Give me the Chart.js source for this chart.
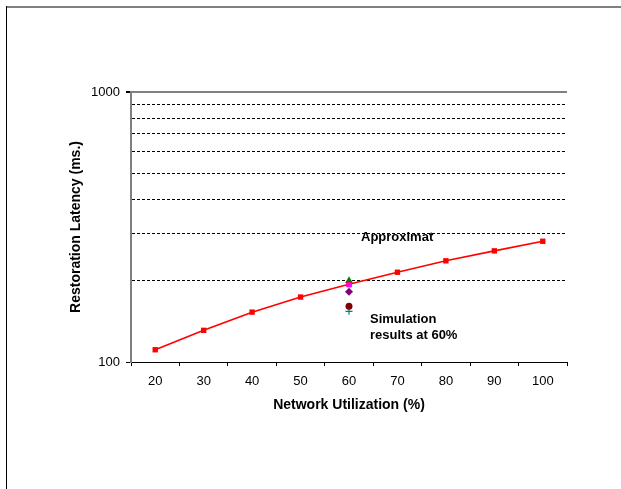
<!DOCTYPE html>
<html><head><meta charset="utf-8">
<script src="https://cdn.jsdelivr.net/npm/chart.js@4/dist/chart.umd.min.js"></script>
<style>html,body{margin:0;padding:0;background:#fff}#wrap{width:621px;height:489px;position:relative}</style>
</head><body><div id="wrap"><canvas id="c" width="621" height="489"></canvas></div>
<script>
// ---- data ----
const categories = ['20','30','40','50','60','70','80','90','100'];
const approxLatency = [111, 131, 153, 174, 194, 215, 237, 258, 280];
const simCategory = '60';
const simTriangle = 200;
const simSquare = 193;
const simDiamond = 182;
const simCircle = 161;
const simPlus = 154;
const yTickLabels = [100, 1000];
const yMin = 100, yMax = 1000;

const FONT = '"Liberation Sans", Arial, sans-serif';

const framePlugin = {
  id: 'frame',
  afterDraw(chart) {
    const ctx = chart.ctx;
    ctx.save();
    ctx.strokeStyle = '#808080'; ctx.lineWidth = 2;
    ctx.beginPath(); ctx.moveTo(6, 7); ctx.lineTo(621, 7); ctx.stroke();
    ctx.strokeStyle = '#000'; ctx.lineWidth = 1;
    ctx.beginPath(); ctx.moveTo(6.5, 6); ctx.lineTo(6.5, 489); ctx.stroke();
    // annotations
    const xs = chart.scales.x, ys = chart.scales.y;
    const x60 = xs.getPixelForValue(categories.indexOf(simCategory));
    ctx.fillStyle = '#000';
    ctx.font = 'bold 13px ' + FONT;
    ctx.textBaseline = 'middle';
    ctx.textAlign = 'left';
    ctx.fillText('Approximat', x60 + 12, ys.getPixelForValue(300) + 4);
    ctx.fillText('Simulation', x60 + 21, 319);
    ctx.fillText('results at 60%', x60 + 21, 335);
    ctx.restore();
  }
};

const pt = (v) => [{x: simCategory, y: v}];

new Chart(document.getElementById('c'), {
  type: 'line',
  data: {
    labels: categories,
    datasets: [
      { label: 'Approximation', data: approxLatency, borderColor: '#FF0000', backgroundColor: '#FF0000',
        borderWidth: 1.6, pointStyle: 'rect', pointRadius: 3.8, pointBorderWidth: 0, tension: 0, order: 1 },
      { label: 'sim1', data: pt(simTriangle), showLine: false, pointStyle: 'triangle', pointRadius: 4.5,
        backgroundColor: '#008000', borderColor: '#008000', borderWidth: 0, order: 2 },
      { label: 'sim2', data: pt(simSquare), showLine: false, pointStyle: 'rect', pointRadius: 3.5,
        backgroundColor: '#FF00FF', borderColor: '#FF00FF', borderWidth: 0, order: 0 },
      { label: 'sim3', data: pt(simDiamond), showLine: false, pointStyle: 'rectRot', pointRadius: 4,
        backgroundColor: '#800080', borderColor: '#800080', borderWidth: 0, order: 0 },
      { label: 'sim4', data: pt(simCircle), showLine: false, pointStyle: 'circle', pointRadius: 3.5,
        backgroundColor: '#800000', borderColor: '#800000', borderWidth: 0, order: 0 },
      { label: 'sim5', data: pt(simPlus), showLine: false, pointStyle: 'cross', pointRadius: 3.5,
        backgroundColor: '#008080', borderColor: '#008080', borderWidth: 1.2, order: 0 }
    ]
  },
  options: {
    responsive: false,
    animation: false,
    devicePixelRatio: 1,
    layout: { padding: { top: 92, right: 54, bottom: 0, left: 0 } },
    plugins: { legend: { display: false }, tooltip: { enabled: false } },
    scales: {
      x: {
        type: 'category',
        offset: true,
        grid: { offset: true, drawOnChartArea: false, tickLength: 4, color: '#000', tickColor: '#000' },
        border: { color: '#000', width: 1 },
        ticks: { color: '#000', font: { family: FONT, size: 13 }, padding: 8, autoSkip: false, maxRotation: 0 },
        title: { display: true, text: 'Network Utilization (%)', color: '#000',
                 font: { family: FONT, size: 14, weight: 'bold' }, padding: { top: 0, bottom: 75 } },
        afterFit(s) { s.height = 127; }
      },
      y: {
        type: 'logarithmic',
        min: yMin, max: yMax,
        afterBuildTicks(s) {
          s.ticks = s.ticks.filter(t => {
            const m = t.value / Math.pow(10, Math.floor(Math.log10(t.value) + 1e-9));
            return Math.abs(m - Math.round(m)) < 1e-6;
          });
        },
        grid: {
          drawOnChartArea: true,
          tickLength: 5,
          color: (c) => c.tick ? (c.tick.value === yMax ? '#808080' : (c.tick.value === yMin ? 'rgba(0,0,0,0)' : '#000')) : '#000',
          lineWidth: (c) => (c.tick && c.tick.value === yMax) ? 2 : 1,
          tickColor: (c) => (c.tick && yTickLabels.includes(c.tick.value)) ? '#000' : 'rgba(0,0,0,0)',
          tickBorderDash: []
        },
        border: {
          color: '#808080', width: 2,
          dash: (c) => (c.tick && c.tick.value !== yMax) ? [3, 2] : []
        },
        ticks: {
          color: '#000', font: { family: FONT, size: 13 }, padding: 6, autoSkip: false,
          callback: (v) => yTickLabels.includes(v) ? String(v) : ''
        },
        title: { display: true, text: 'Restoration Latency (ms.)', color: '#000',
                 font: { family: FONT, size: 14, weight: 'bold' }, padding: { top: 68, bottom: 0 } },
        afterFit(s) { s.width = 131; }
      }
    }
  },
  plugins: [framePlugin]
});
</script></body></html>
